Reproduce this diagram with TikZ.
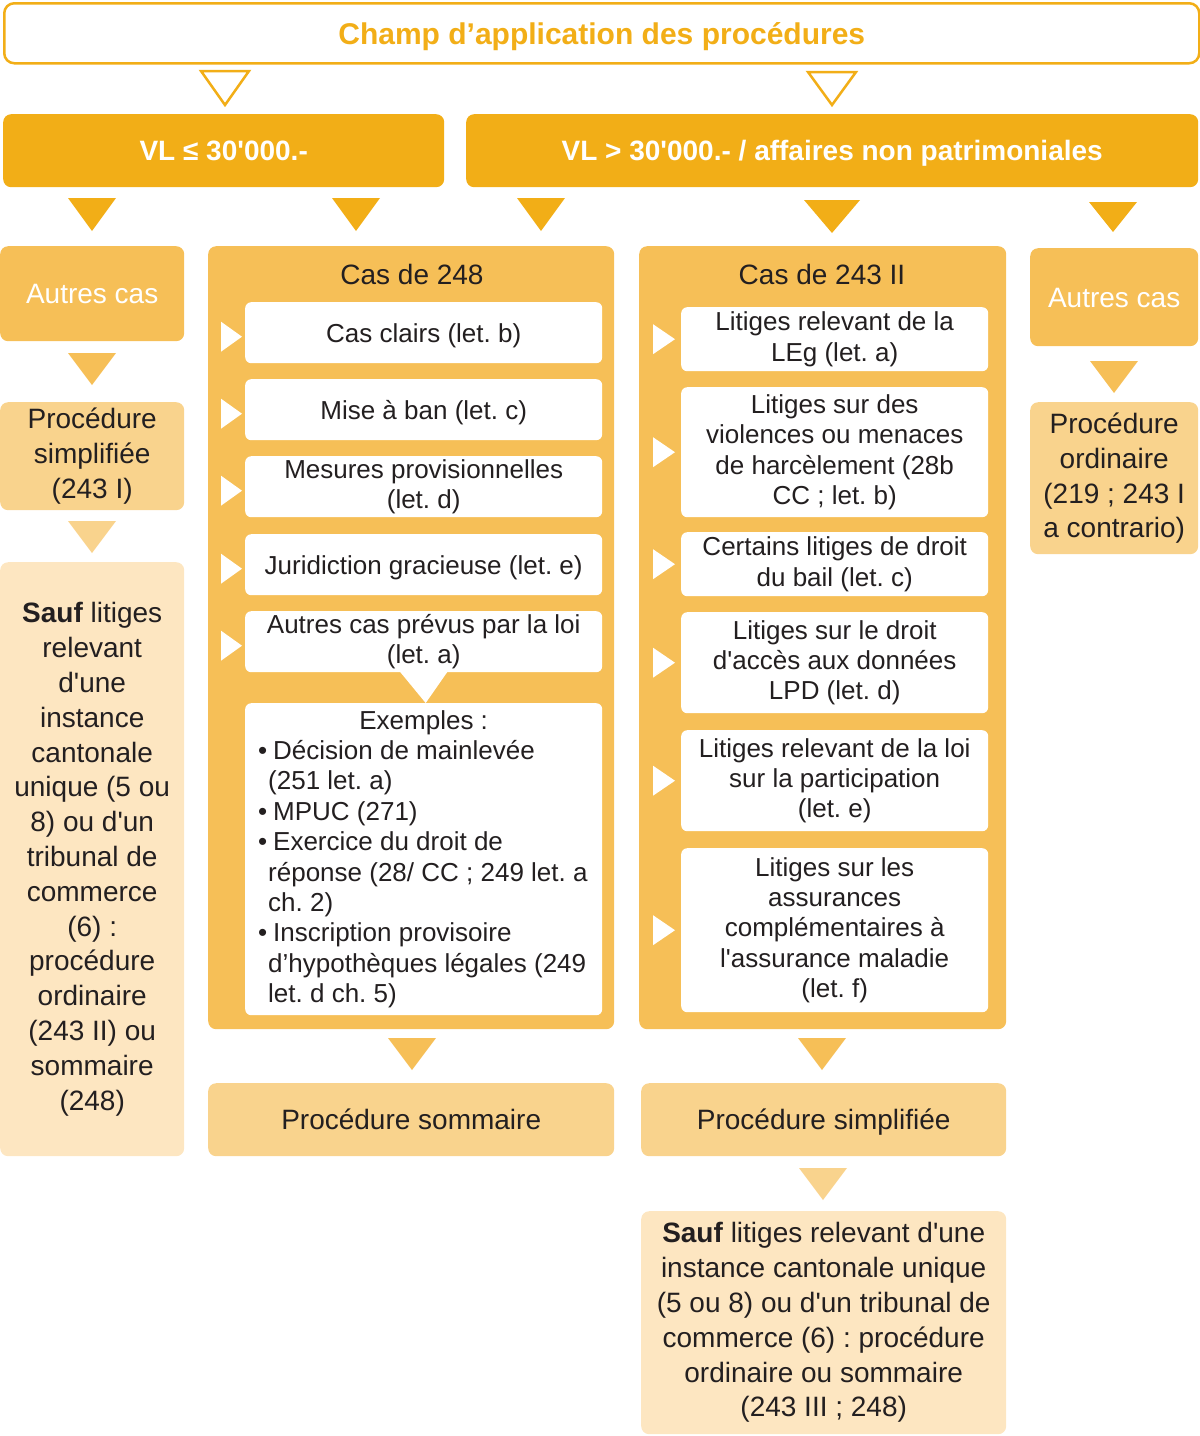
\documentclass[tikz,border=0pt]{standalone}
\usepackage{fontspec}
\setmainfont{Liberation Sans}[Ligatures=TeXOff]
\usetikzlibrary{calc}
\definecolor{dor}{RGB}{242,174,23}
\definecolor{cas}{RGB}{246,191,87}
\definecolor{proc}{RGB}{249,211,141}
\definecolor{sauf}{RGB}{253,230,193}
\definecolor{ink}{RGB}{35,31,32}
\newcommand\fs[2]{\fontsize{#1}{#2}\selectfont}
\newcommand\bul{\makebox[15pt][l]{•}}
\newcommand\ind{\hspace*{10pt}}
% down triangle: centre x, top y, bottom y, half width, style
\newcommand\dtri[5]{\path[#5] (#1-#4,#2) -- (#1+#4,#2) -- (#1,#3) -- cycle;}
% right-pointing white marker left of a node
\newcommand\rtri[4]{\fill[white] ($(#1.west)+(#2,#4-15)$) -- ($(#1.west)+(#2,#4+15)$) -- ($(#1.west)+(#3,#4)$) -- cycle;}
\begin{document}
\frenchspacing
\begin{tikzpicture}[x=1pt,y=-1pt,
  bx/.style={rectangle, rounded corners=8pt, inner sep=0pt, anchor=north west, align=center, text=ink, font=\fs{28}{34.8}},
  sz/.style 2 args={minimum width=#1, minimum height=#2},
  wbox/.style={bx, fill=white, rounded corners=6pt, font=\fs{26}{30.4}},
  one/.style={text height=#1, text depth=0pt},
  low/.style={yshift=-#1, minimum height=0pt},
  hdr/.style={bx, fill=dor, text=white, font=\bfseries\fs{28}{34}, one=20pt},
  ttl/.style={anchor=center, inner sep=0pt, text=ink, font=\fs{28}{34}, one=20pt}
]
\useasboundingbox (0,0) rectangle (1200,1436);

% title
\node[bx, sz={1195}{60}, draw=dor, line width=2.5pt, fill=white, rounded corners=10pt, text=dor, font=\bfseries\fs{30}{36}, one=21.5pt] (title) at (3,2) {Champ d’application des procédures};
\dtri{225}{71}{105}{24}{draw=dor, line width=2.5pt, fill=white, line join=miter}
\dtri{832}{72}{105}{24}{draw=dor, line width=2.5pt, fill=white, line join=miter}

% value boxes
\node[hdr, sz={441}{73}] (vl1) at (3,114) {VL ≤ 30'000.-};
\node[hdr, sz={732}{73}] (vl2) at (466,114) {VL > 30'000.- / affaires non patrimoniales};
\dtri{92}{198}{231}{24}{fill=dor}
\dtri{356}{198}{231}{24}{fill=dor}
\dtri{541}{198}{231}{24}{fill=dor}
\dtri{832}{200}{233}{28}{fill=dor}
\dtri{1113}{202}{232}{24}{fill=dor}

% left column
\node[bx, sz={184}{95}, fill=cas, text=white, one=20pt] (aut1) at (0,246) {Autres cas};
\dtri{92}{353}{385}{24}{fill=cas}
\node[bx, sz={184}{108}, fill=proc] (ps1) at (0,402) {Procédure\\simplifiée\\(243 I)};
\dtri{92}{521}{553}{24}{fill=proc}
\node[bx, sz={184}{594}, fill=sauf] (sauf1) at (0,562) {\textbf{Sauf} litiges\\relevant\\d'une\\instance\\cantonale\\unique (5 ou\\8) ou d'un\\tribunal de\\commerce\\(6) :\\procédure\\ordinaire\\(243 II) ou\\sommaire\\(248)};

% Cas de 248
\node[bx, sz={406}{783}, fill=cas] (cas248) at (208,246) {};
\node[ttl] (t248) at (412,274) {Cas de 248};
\node[wbox, sz={357}{61}, one=19pt] (b1) at (245,302) {Cas clairs (let. b)};
\node[wbox, sz={357}{61}, one=19pt] (b2) at (245,379) {Mise à ban (let. c)};
\node[wbox, sz={357}{61}] (b3) at (245,456) {Mesures provisionnelles\\(let. d)};
\node[wbox, sz={357}{61}, one=19pt] (b4) at (245,534) {Juridiction gracieuse (let. e)};
\node[wbox, sz={357}{61}] (b5) at (245,611) {Autres cas prévus par la loi\\(let. a)};
\node[wbox, sz={357}{312}, align=left] (ex) at (245,703) {\makebox[331pt]{Exemples :}\\
\bul Décision de mainlevée\\
\ind (251 let. a)\\
\bul MPUC (271)\\
\bul Exercice du droit de\\
\ind réponse (28/ CC ; 249 let. a\\
\ind ch. 2)\\
\bul Inscription provisoire\\
\ind d’hypothèques légales (249\\
\ind let. d ch. 5)};
\fill[white] ($(b5.south)+(-24,-1)$) -- ($(b5.south)+(24,-1)$) -- ($(ex.north)+(2,0)$) -- cycle;
\foreach \n in {b1,b2,b3,b4,b5}{\rtri{\n}{-24}{-3}{4}}

% Cas de 243 II
\node[bx, sz={367}{783}, fill=cas] (cas243) at (639,246) {};
\node[ttl] (t243) at (822,274) {Cas de 243 II};
\node[wbox, sz={307}{64}] (c1) at (681,307) {Litiges relevant de la\\LEg (let. a)};
\node[wbox, sz={307}{130}] (c2) at (681,387) {Litiges sur des\\violences ou menaces\\de harcèlement (28b\\CC ; let. b)};
\node[wbox, sz={307}{64}] (c3) at (681,532) {Certains litiges de droit\\du bail (let. c)};
\node[wbox, sz={307}{101}] (c4) at (681,612) {Litiges sur le droit\\d'accès aux données\\LPD (let. d)};
\node[wbox, sz={307}{101}] (c5) at (681,730) {Litiges relevant de la loi\\sur la participation\\(let. e)};
\node[wbox, sz={307}{164}] (c6) at (681,848) {Litiges sur les\\assurances\\complémentaires à\\l'assurance maladie\\(let. f)};
\foreach \n in {c1,c2,c3,c4,c5,c6}{\rtri{\n}{-28}{-6}{0}}

% right column
\node[bx, sz={168}{98}, fill=cas, text=white, one=20pt] (aut2) at (1030,248) {Autres cas};
\dtri{1114}{361}{393}{24}{fill=cas}
\node[bx, sz={168}{152}, fill=proc] (po) at (1030,402) {Procédure\\ordinaire\\(219 ; 243 I\\a contrario)};

% bottom
\dtri{412}{1038}{1070}{24}{fill=cas}
\dtri{822}{1038}{1070}{24}{fill=cas}
\node[bx, sz={406}{73}, fill=proc, one=20pt] (psom) at (208,1083) {Procédure sommaire};
\node[bx, sz={365}{73}, fill=proc, one=20pt] (psim) at (641,1083) {Procédure simplifiée};
\dtri{823}{1168}{1200}{24}{fill=proc}
\node[bx, sz={365}{223}, fill=sauf] (sauf2) at (641,1211) {\textbf{Sauf} litiges relevant d'une\\instance cantonale unique\\(5 ou 8) ou d'un tribunal de\\commerce (6) : procédure\\ordinaire ou sommaire\\(243 III ; 248)};
\end{tikzpicture}
\end{document}
